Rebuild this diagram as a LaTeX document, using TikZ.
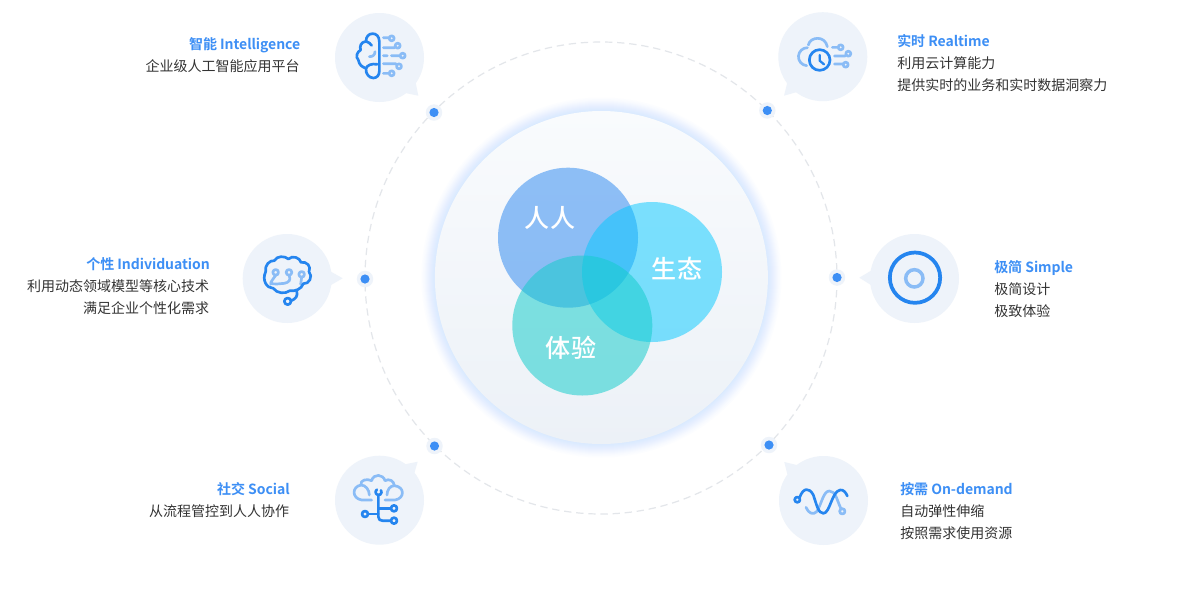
\documentclass[tikz,border=0pt]{standalone}
\usepackage{fontspec}
\setmainfont[BoldFont={Noto Sans CJK SC Medium}]{Noto Sans CJK SC}
\newfontfamily\ttlf[LetterSpace=-0.4]{Noto Sans CJK SC Bold}
\definecolor{bub}{HTML}{EEF3FA}
\definecolor{dk}{HTML}{2585EF}
\definecolor{lt}{HTML}{8ABCF6}
\definecolor{ttl}{HTML}{3D8FF5}
\definecolor{txt}{HTML}{333333}
\definecolor{dsh}{HTML}{E3E6EA}
\definecolor{glow}{HTML}{5FB0FF}
\definecolor{discT}{HTML}{F9FBFD}
\definecolor{discB}{HTML}{ECF1F7}
\tikzset{
  ttlL/.style={anchor=base west,font=\fontsize{10.5pt}{12pt}\ttlf,text=ttl,inner sep=0pt},
  ttlR/.style={anchor=base east,font=\fontsize{10.5pt}{12pt}\ttlf,text=ttl,inner sep=0pt},
  bodyL/.style={anchor=base west,font=\fontsize{10.5pt}{12pt}\selectfont,text=txt,inner sep=0pt},
  bodyR/.style={anchor=base east,font=\fontsize{10.5pt}{12pt}\selectfont,text=txt,inner sep=0pt},
  venn/.style={anchor=center,font=\fontsize{18.8pt}{20pt}\selectfont\bfseries,text=white,inner sep=0pt},
  idk/.style={draw=dk,line width=2pt,line cap=round,line join=round},
  ilt/.style={draw=lt,line width=2pt,line cap=round,line join=round},
}
\newcommand{\dotmark}[2]{\fill[bub] (#1,#2) circle[radius=8.2]; \fill[ttl] (#1,#2) circle[radius=4.6];}
\begin{document}
\begin{tikzpicture}[x=0.75pt,y=-0.75pt]
\useasboundingbox (0,0) rectangle (1200,590);
\fill[white] (0,0) rectangle (1200,590);
% outer dashed ring
\draw[dsh,line width=0.9pt,dash pattern=on 5.5pt off 3.6pt] (601,278) circle[radius=236];
% glow
\foreach \r in {180,178.500,177,176,175,174,173,172,171,170,169,168,167}{\fill[glow,opacity=0.017] (601.4,277.5) circle[radius=\r];}
% main disc
\shade[top color=discT,bottom color=discB] (601.4,277.5) circle[radius=166.5];
% venn
\definecolor{v1}{HTML}{2584F0}\definecolor{v2}{HTML}{00C8FF}\definecolor{v3}{HTML}{13CCCB}
\fill[v1,opacity=0.5] (568,237.7) circle[radius=70];
\fill[v2,opacity=0.5] (652,272) circle[radius=70];
\fill[v3,opacity=0.53] (582.3,325.5) circle[radius=70];
\node[venn] (renren) at (550,218) {人人};
\node[venn] (shengtai) at (677,269) {生态};
\node[venn] (tiyan) at (571,348) {体验};
% dots
\dotmark{434}{112.5}\dotmark{767.3}{110.5}\dotmark{365}{279}\dotmark{837}{277.5}\dotmark{434.5}{446}\dotmark{769}{445}
% bubbles
\fill[bub] (379.5,57.5) circle[radius=44.5];
\fill[bub] (415.7,82.7) -- (418.3,95.7) -- (406.7,93.3) -- (400,80) -- cycle;
\fill[bub] (822.8,56.7) circle[radius=44.5];
\fill[bub] (787.3,82.7) -- (784,95.7) -- (796,92.3) -- (803,80) -- cycle;
\fill[bub] (287.2,278.5) circle[radius=44.5];
\fill[bub] (331,271.7) -- (342.7,278.3) -- (331,285) -- (320,278) -- cycle;
\fill[bub] (914.5,278.5) circle[radius=44.5];
\fill[bub] (871,270.7) -- (859.3,277.7) -- (871,285) -- (885,278) -- cycle;
\fill[bub] (379.5,500.2) circle[radius=44.5];
\fill[bub] (405,464.3) -- (417.7,461.7) -- (414.3,473.3) -- (400,480) -- cycle;
\fill[bub] (823.5,500.5) circle[radius=44.5];
\fill[bub] (796.7,465) -- (784.3,462) -- (787.3,474) -- (803,480) -- cycle;
% icon: intelligence
\begin{scope}[shift={(320,0)},scale=1/3]
\draw[ilt] (190,113) -- (205,113) (215,115) circle[radius=7.5];
\draw[ilt] (190,143) -- (224,143) (233,137) circle[radius=7.5];
\draw[ilt] (190,167) -- (202,167) (214,167) -- (238,167) (248,167) circle[radius=7.5];
\draw[ilt] (190,191) -- (228,191) (237,199) circle[radius=7.5];
\draw[ilt] (190,220) -- (205,220) (215,220) circle[radius=7.5];
\draw[ilt] (148,170) .. controls (158,170) and (165,165) .. (165,155);
\draw[idk] (178,125) .. controls (178,108) and (168,101) .. (158,101) .. controls (146,101) and (138,110) .. (138,124)
  .. controls (122,126) and (118,140) .. (122,150) .. controls (112,155) and (105,170) .. (115,180)
  .. controls (118,195) and (125,200) .. (138,205) .. controls (136,222) and (148,234) .. (160,234)
  .. controls (170,234) and (178,226) .. (178,214) -- cycle;
\draw[idk] (138,205) .. controls (142,195) and (155,190) .. (172,193);
\draw[idk] (138,124) .. controls (146,126) and (152,132) .. (155,136);
\end{scope}
% icon: realtime
\begin{scope}[shift={(750,0)},scale=1/3]
\draw[ilt] (170,197) arc[start angle=95,end angle=270,radius=27];
\draw[ilt] (175,135) .. controls (180,110) and (225,105) .. (232,140);
\draw[idk] (209,180) circle[radius=31];
\draw[idk,line width=1.7pt] (209,165) -- (209,182) -- (222,193);
\draw[ilt] (247,142) -- (263,142) (272,142) circle[radius=7.5];
\draw[ilt] (253,168) -- (286,168) (295,161) circle[radius=7.5];
\draw[ilt] (253,192) -- (278,192) (287,194) circle[radius=7.5];
\end{scope}
% icon: individuation
\begin{scope}[shift={(235,225)},scale=1/3]
\draw[ilt] (122,142) circle[radius=8.5] (162,142) circle[radius=8.5] (200,148) circle[radius=8.5];
\draw[ilt] (122,151) .. controls (118,160) and (108,165) .. (107,178);
\draw[ilt] (162,151) .. controls (170,165) and (160,173) .. (148,175) -- (125,177) .. controls (115,178) and (110,176) .. (107,172);
\draw[ilt] (200,157) -- (197,178);
\draw[idk] (115,190) .. controls (95,190) and (80,165) .. (92,140) .. controls (88,120) and (105,105) .. (118,107) .. controls (125,92) and (150,92) .. (160,102) .. controls (172,90) and (195,98) .. (198,112) .. controls (215,108) and (230,125) .. (222,140) .. controls (235,155) and (222,178) .. (205,176) .. controls (200,192) and (180,200) .. (165,197) .. controls (150,208) and (125,205) .. (115,190);
\draw[idk] (185,198) .. controls (190,212) and (182,222) .. (169,227);
\draw[idk] (158,229) circle[radius=10];
\end{scope}
% icon: simple
\begin{scope}[shift={(825,225)},scale=1/3]
\draw[dk,line width=2.8pt] (270,158) circle[radius=75.5];
\draw[lt,line width=2.6pt] (268,160) circle[radius=26];
\end{scope}
% icon: social
\begin{scope}[shift={(325,430)},scale=1/3]
\draw[ilt] (140,210) -- (110,210) .. controls (80,205) and (80,170) .. (108,165) .. controls (122,165) and (133,180) .. (133,195);
\draw[ilt] (108,165) .. controls (105,150) and (125,145) .. (140,152) .. controls (145,130) and (175,132) .. (180,152) .. controls (192,145) and (207,152) .. (208,167);
\draw[ilt] (180,210) -- (210,210) .. controls (240,205) and (240,170) .. (208,167) .. controls (195,167) and (186,180) .. (186,195);
\draw[idk] (168,181) arc[start angle=-35,end angle=235,radius=9];
\draw[idk] (160,195) -- (160,260) .. controls (160,268) and (165,272) .. (172,272) -- (197,272);
\draw[idk] (160,236) -- (197,236) (130,252) -- (160,252);
\draw[idk] (207,235) circle[radius=9] (207,272) circle[radius=9] (120,252) circle[radius=9];
\end{scope}
% icon: on-demand
\begin{scope}[shift={(750,430)},scale=1/3]
\draw[ilt] (168,232) .. controls (175,250) and (190,256) .. (200,245) .. controls (215,222) and (220,183) .. (238,183) .. controls (258,183) and (260,210) .. (273,236);
\draw[ilt] (277,244) circle[radius=8];
\draw[idk] (149,202) .. controls (160,172) and (178,172) .. (190,195) .. controls (200,225) and (205,250) .. (220,250) .. controls (240,250) and (245,185) .. (270,180) .. controls (280,178) and (288,188) .. (292,198);
\draw[idk] (142,209) circle[radius=8];
\end{scope}
% texts
\node[ttlR] (t1) at (300.500,49) {智能 Intelligence};
\node[bodyR] (b1) at (300,71) {企业级人工智能应用平台};
\node[ttlR] (t2) at (210,269) {个性 Individuation};
\node[bodyR] (b2a) at (209.500,291) {利用动态领域模型等核心技术};
\node[bodyR] (b2b) at (209.500,313) {满足企业个性化需求};
\node[ttlR] (t3) at (290,494) {社交 Social};
\node[bodyR] (b3) at (289.500,516) {从流程管控到人人协作};
\node[ttlL] (t4) at (897,46) {实时 Realtime};
\node[bodyL] (b4a) at (897,68) {利用云计算能力};
\node[bodyL] (b4b) at (897,90) {提供实时的业务和实时数据洞察力};
\node[ttlL] (t5) at (994,272) {极简 Simple};
\node[bodyL] (b5a) at (994,294) {极简设计};
\node[bodyL] (b5b) at (994,316) {极致体验};
\node[ttlL] (t6) at (900,494) {按需 On-demand};
\node[bodyL] (b6a) at (900,516) {自动弹性伸缩};
\node[bodyL] (b6b) at (900,538) {按照需求使用资源};
\end{tikzpicture}
\end{document}
